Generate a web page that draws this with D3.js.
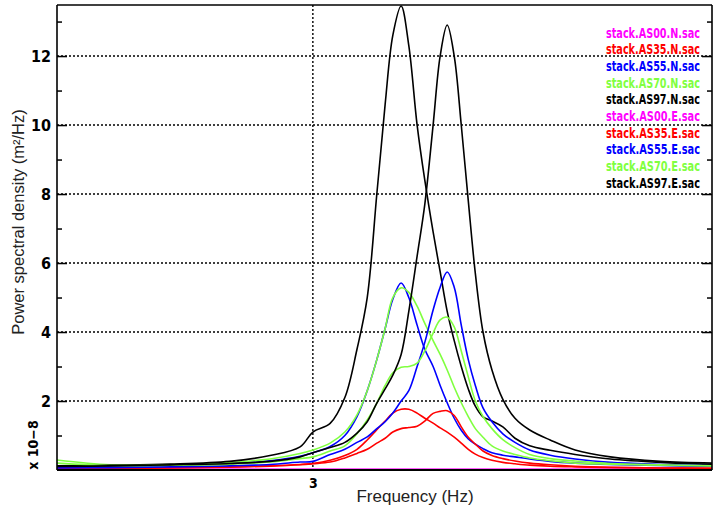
<!DOCTYPE html>
<html><head><meta charset="utf-8">
<script src="https://cdn.jsdelivr.net/npm/d3@7/dist/d3.min.js"></script>
<style>body{margin:0;background:#fff;} svg{display:block;}</style>
</head><body><svg id="c" width="713" height="513"></svg>
<script>
// ---- data ----
const freq = [2.600,2.683,2.777,2.870,2.933,2.980,3.000,3.027,3.050,3.069,3.085,3.100,3.113,3.125,3.138,3.150,3.163,3.175,3.188,3.199,3.210,3.221,3.232,3.243,3.254,3.266,3.280,3.297,3.316,3.339,3.371,3.410,3.465,3.543,3.624];
const as00N = [0.02,0.02,0.02,0.02,0.02,0.02,0.02,0.02,0.02,0.02,0.02,0.02,0.02,0.02,0.02,0.02,0.02,0.02,0.02,0.02,0.02,0.02,0.02,0.02,0.02,0.02,0.02,0.02,0.02,0.02,0.02,0.02,0.02,0.02,0.02];
const as35N = [0.05,0.06,0.07,0.09,0.12,0.16,0.19,0.28,0.42,0.60,0.87,1.17,1.42,1.65,1.76,1.76,1.65,1.50,1.36,1.22,1.10,0.95,0.78,0.60,0.46,0.36,0.28,0.22,0.18,0.14,0.11,0.09,0.07,0.06,0.05];
const as55N = [0.08,0.10,0.12,0.18,0.27,0.40,0.50,0.68,1.00,1.55,2.30,3.20,4.10,4.95,5.42,5.00,4.20,3.50,3.00,2.45,1.95,1.50,1.15,0.90,0.75,0.62,0.50,0.43,0.38,0.32,0.25,0.20,0.16,0.13,0.11];
const as70N = [0.29,0.15,0.16,0.22,0.32,0.48,0.58,0.78,1.10,1.60,2.30,3.20,4.10,5.00,5.28,5.15,4.75,4.25,3.75,3.35,2.90,2.40,1.95,1.55,1.20,0.95,0.70,0.55,0.45,0.35,0.27,0.20,0.17,0.14,0.12];
const as97N = [0.12,0.14,0.17,0.25,0.42,0.67,1.10,1.35,2.10,3.50,5.00,8.00,10.6,12.6,13.45,12.3,10.0,8.40,6.90,5.75,4.60,3.75,3.00,2.35,1.85,1.54,1.42,1.25,0.92,0.70,0.57,0.45,0.32,0.22,0.16];
const as00E = [0.01,0.01,0.01,0.01,0.01,0.01,0.01,0.01,0.01,0.01,0.01,0.01,0.01,0.01,0.01,0.01,0.01,0.01,0.01,0.01,0.01,0.01,0.01,0.01,0.01,0.01,0.01,0.01,0.01,0.01,0.01,0.01,0.01,0.01,0.01];
const as35E = [0.04,0.05,0.06,0.08,0.11,0.15,0.18,0.23,0.35,0.48,0.60,0.78,0.92,1.10,1.20,1.23,1.27,1.42,1.64,1.70,1.72,1.58,1.25,0.95,0.75,0.55,0.42,0.33,0.26,0.20,0.15,0.11,0.08,0.06,0.05];
const as55E = [0.06,0.07,0.09,0.12,0.16,0.23,0.25,0.45,0.60,0.80,0.96,1.20,1.40,1.65,2.00,2.30,3.00,3.70,4.64,5.30,5.74,5.30,4.20,3.20,2.45,1.80,1.40,1.05,0.80,0.58,0.43,0.32,0.22,0.16,0.12];
const as70E = [0.20,0.13,0.14,0.17,0.23,0.33,0.38,0.55,0.70,1.05,1.45,1.94,2.45,2.82,2.98,3.00,3.10,3.45,3.97,4.35,4.43,4.15,3.45,2.70,2.00,1.55,1.20,0.88,0.65,0.45,0.33,0.26,0.19,0.15,0.12];
const as97E = [0.10,0.12,0.15,0.19,0.25,0.38,0.50,0.65,0.80,1.07,1.40,1.94,2.35,2.75,3.35,4.60,6.20,7.70,10.0,12.0,12.9,12.0,10.0,7.80,5.70,4.00,2.90,2.05,1.50,1.16,0.87,0.58,0.38,0.25,0.20];
const seriesNames = ["stack.AS00.N.sac","stack.AS35.N.sac","stack.AS55.N.sac","stack.AS70.N.sac","stack.AS97.N.sac","stack.AS00.E.sac","stack.AS35.E.sac","stack.AS55.E.sac","stack.AS70.E.sac","stack.AS97.E.sac"];
const seriesValues = [as00N,as35N,as55N,as70N,as97N,as00E,as35E,as55E,as70E,as97E];
const seriesColors = ["#ff00ff","#ff0000","#0000ff","#80ff40","#000000","#ff00ff","#ff0000","#0000ff","#80ff40","#000000"];
const yMajor = [2,4,6,8,10,12];
const yMinor = [1,3,5,7,9,11,13];
const xTicks = [3];

// ---- drawing ----
const svg = d3.select("#c");
const L=57, R=712, T=5, B=470;
const x = d3.scaleLinear().domain([2.6,3.624]).range([L,R]);
const y = d3.scaleLinear().domain([0,13.48]).range([B,T]);

// grid
const g = svg.append("g");
g.selectAll("line.hg").data(yMajor).join("line")
  .attr("x1",L).attr("x2",R).attr("y1",d=>y(d)).attr("y2",d=>y(d))
  .attr("stroke","#000").attr("stroke-width",1.4).attr("stroke-dasharray","2,2");
g.selectAll("line.vg").data(xTicks).join("line")
  .attr("x1",d=>x(d)).attr("x2",d=>x(d)).attr("y1",T).attr("y2",B)
  .attr("stroke","#000").attr("stroke-width",1.4).attr("stroke-dasharray","2,2");

// curves
const line = d3.line().x((d,i)=>x(freq[i])).y(d=>y(d)).curve(d3.curveCatmullRom.alpha(0.5));
svg.append("g").selectAll("path").data(seriesValues).join("path")
  .attr("d",d=>line(d)).attr("fill","none")
  .attr("stroke",(d,i)=>seriesColors[i]).attr("stroke-width",1.6);

// axes
const axL = d3.axisLeft(y).tickValues(yMajor).tickSize(-10).tickPadding(5).tickFormat(d3.format("d"));
const gl = svg.append("g").attr("transform",`translate(${L},0)`).call(axL);
gl.select(".domain").remove();
gl.selectAll(".tick line").attr("stroke-width",1.5);
gl.selectAll(".tick text").attr("font-family","'DejaVu Sans Condensed','Liberation Sans Narrow',sans-serif")
  .attr("font-weight","bold").attr("font-size",16).attr("dx",-1);
const axLm = d3.axisLeft(y).tickValues(yMinor).tickSize(-5).tickFormat("");
const glm = svg.append("g").attr("transform",`translate(${L},0)`).call(axLm);
glm.select(".domain").remove(); glm.selectAll(".tick line").attr("stroke-width",1.5);
const axR = d3.axisRight(y).tickValues(yMajor).tickSize(-10).tickFormat("");
const gr = svg.append("g").attr("transform",`translate(${R},0)`).call(axR);
gr.select(".domain").remove(); gr.selectAll(".tick line").attr("stroke-width",1.5);
const axRm = d3.axisRight(y).tickValues(yMinor).tickSize(-5).tickFormat("");
const grm = svg.append("g").attr("transform",`translate(${R},0)`).call(axRm);
grm.select(".domain").remove(); grm.selectAll(".tick line").attr("stroke-width",1.5);

const axB = d3.axisBottom(x).tickValues(xTicks).tickSize(0).tickPadding(8).tickFormat(d3.format("d"));
const gb = svg.append("g").attr("transform",`translate(0,${B})`).call(axB);
gb.select(".domain").remove();
gb.selectAll(".tick text").attr("font-family","'DejaVu Sans Condensed','Liberation Sans Narrow',sans-serif")
  .attr("font-weight","bold").attr("font-size",14).attr("fill","#000");

// frame
svg.append("line").attr("x1",L).attr("x2",L).attr("y1",T).attr("y2",B).attr("stroke","#000").attr("stroke-width",1.6);
svg.append("line").attr("x1",R).attr("x2",R).attr("y1",T).attr("y2",B).attr("stroke","#000").attr("stroke-width",1.6);
svg.append("line").attr("x1",L).attr("x2",R).attr("y1",T).attr("y2",T).attr("stroke","#000").attr("stroke-width",1.6);
svg.append("line").attr("x1",L).attr("x2",R).attr("y1",B).attr("y2",B).attr("stroke","#000").attr("stroke-width",1.8);

// labels
svg.append("text").attr("x",415).attr("y",502).attr("text-anchor","middle")
  .attr("font-family","'Liberation Sans',Arial,sans-serif").attr("font-size",17).attr("fill","#222")
  .text("Frequency (Hz)");
svg.append("text").attr("transform","translate(24,222) rotate(-90)").attr("text-anchor","middle")
  .attr("font-family","'Liberation Sans',Arial,sans-serif").attr("font-size",16.5).attr("fill","#222")
  .text("Power spectral density (m²/Hz)");
svg.append("text").attr("transform","translate(38,445) rotate(-90)").attr("text-anchor","middle")
  .attr("font-family","'DejaVu Sans Condensed','Liberation Sans Narrow',sans-serif").attr("font-weight","bold")
  .attr("font-size",14).text("x 10−8");

// legend
svg.append("g").selectAll("text").data(seriesNames).join("text")
  .attr("transform",(d,i)=>`translate(606,${37.5+i*16.7}) scale(1,1.2)`)
  .attr("x",0).attr("y",0).attr("text-anchor","start")
  .attr("font-family","'DejaVu Sans Condensed','Liberation Sans',sans-serif").attr("font-weight","bold")
  .attr("font-size",11.5).attr("textLength",94).attr("lengthAdjust","spacingAndGlyphs")
  .attr("fill",(d,i)=>seriesColors[i]).text(d=>d);
</script></body></html>
